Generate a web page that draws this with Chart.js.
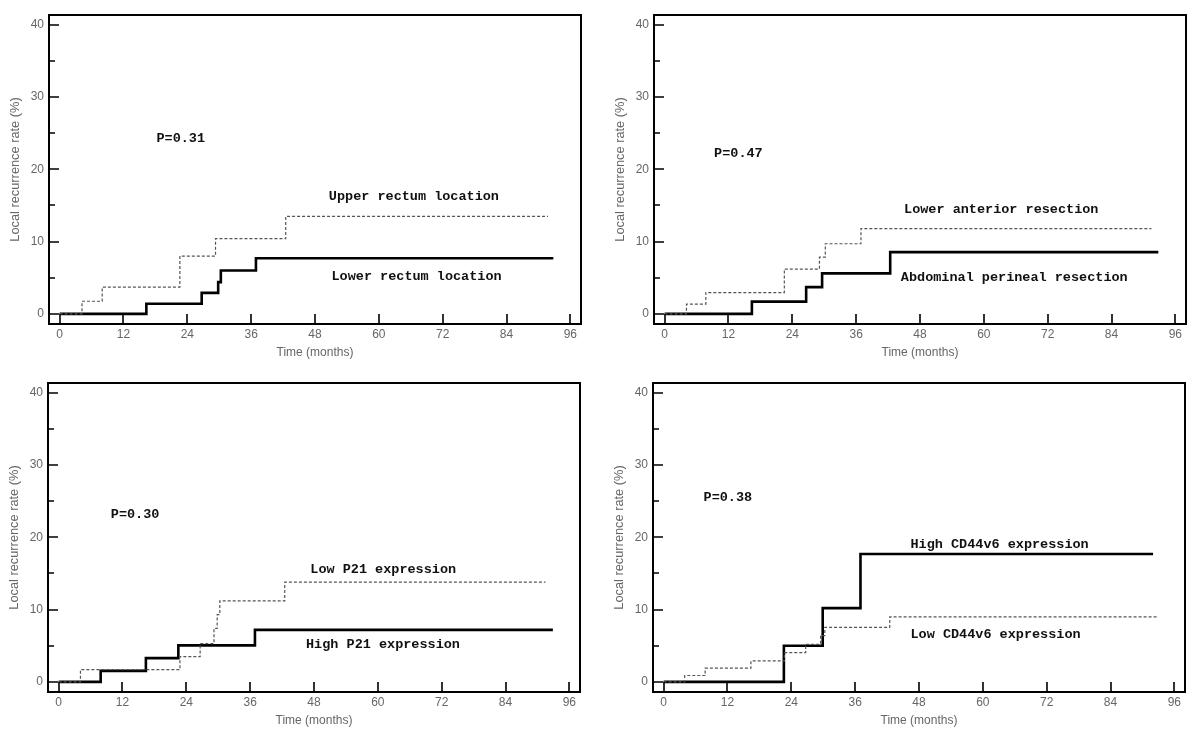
<!DOCTYPE html>
<html>
<head>
<meta charset="utf-8">
<title>Local recurrence rate</title>
<script src="https://cdn.jsdelivr.net/npm/chart.js@4/dist/chart.umd.min.js"></script>
<style>
  html, body { margin: 0; padding: 0; background: #fff; }
  #wrap { position: relative; width: 1200px; height: 746px; overflow: hidden; background: #fff; }
  #wrap canvas { position: absolute; }
</style>
</head>
<body>
<div id="wrap">
  <canvas id="km-location" width="600" height="370" style="left:0px;top:0px"></canvas>
  <canvas id="km-resection" width="600" height="370" style="left:605px;top:0px"></canvas>
  <canvas id="km-p21" width="600" height="370" style="left:-1px;top:368px"></canvas>
  <canvas id="km-cd44" width="600" height="370" style="left:604px;top:368px"></canvas>
</div>
<script>
// axis ticks
const monthTicks = [0, 12, 24, 36, 48, 60, 72, 84, 96]
const rateTicks = [0, 5, 10, 15, 20, 25, 30, 35, 40]

// tumour location
const upperRectumMonths = [0, 4.2, 8.0, 22.6, 29.3, 42.5, 91.8]
const upperRectumRate = [0, 1.75, 3.7, 8.0, 10.4, 13.5, 13.5]
const lowerRectumMonths = [0, 16.3, 26.7, 29.8, 30.3, 36.9, 92.8]
const lowerRectumRate = [0, 1.4, 2.9, 4.4, 6.0, 7.7, 7.7]

// type of resection
const anteriorMonths = [0, 4.1, 7.75, 22.5, 29.1, 30.2, 36.9, 91.5]
const anteriorRate = [0, 1.35, 2.95, 6.2, 7.85, 9.7, 11.8, 11.8]
const perinealMonths = [0, 16.4, 26.6, 29.6, 42.4, 92.8]
const perinealRate = [0, 1.7, 3.7, 5.6, 8.55, 8.55]

// P21 expression
const lowP21Months = [0, 4.1, 22.8, 26.6, 29.2, 29.8, 30.3, 42.5, 91.5]
const lowP21Rate = [0, 1.7, 3.5, 5.3, 7.4, 9.3, 11.2, 13.8, 13.8]
const highP21Months = [0, 7.9, 16.4, 22.5, 36.9, 92.9]
const highP21Rate = [0, 1.52, 3.28, 5.05, 7.2, 7.2]

// CD44v6 expression
const lowCD44Months = [0, 3.95, 7.8, 16.4, 22.7, 26.7, 29.5, 30.3, 42.5, 92.7]
const lowCD44Rate = [0, 0.88, 1.9, 2.9, 4.06, 5.2, 6.4, 7.55, 9.0, 9.0]
const highCD44Months = [0, 22.6, 29.9, 37.0, 92.0]
const highCD44Rate = [0, 5.0, 10.2, 17.7, 17.7]

const toPoints = (months, rate) => months.map((m, i) => ({ x: m, y: rate[i] }))

const solidStyle = { borderColor: '#000', borderWidth: 2.6 }
const dottedStyle = { borderColor: '#555', borderWidth: 1.2, borderDash: [3, 2] }

// frame box and inward tick marks
const framePlugin = {
  id: 'frame',
  afterDraw(chart) {
    const { ctx, chartArea: a, scales } = chart
    ctx.save()
    ctx.strokeStyle = '#000'
    ctx.lineWidth = 2
    ctx.strokeRect(a.left, a.top, a.right - a.left, a.bottom - a.top)
    ctx.lineWidth = 1.6
    ctx.beginPath()
    scales.x.ticks.forEach(t => {
      const px = Math.round(scales.x.getPixelForValue(t.value))
      ctx.moveTo(px, a.bottom)
      ctx.lineTo(px, a.bottom - 10)
    })
    scales.y.ticks.forEach(t => {
      const py = Math.round(scales.y.getPixelForValue(t.value))
      ctx.moveTo(a.left, py)
      ctx.lineTo(a.left + (t.value % 10 === 0 ? 10 : 6), py)
    })
    ctx.stroke()
    ctx.restore()
  }
}

// curve labels and P value
const notesPlugin = {
  id: 'notes',
  afterDatasetsDraw(chart, args, opts) {
    const { ctx, scales } = chart
    ctx.save()
    ctx.font = 'bold 13.5px "Liberation Mono", "DejaVu Sans Mono", monospace'
    ctx.fillStyle = '#111'
    ctx.textAlign = 'left'
    ctx.textBaseline = 'middle'
    ;(opts.items || []).forEach(n => {
      ctx.fillText(n.text, scales.x.getPixelForValue(n.x), scales.y.getPixelForValue(n.y))
    })
    ctx.restore()
  }
}

const tickFont = { family: '"Liberation Sans", Arial, sans-serif', size: 12 }
const yTitleFont = { family: '"Liberation Sans", Arial, sans-serif', size: 12.8 }

function makeChart(id, solid, dotted, notes) {
  return new Chart(document.getElementById(id), {
    type: 'line',
    data: {
      datasets: [
        { label: dotted.label, data: toPoints(dotted.months, dotted.rate), stepped: true, pointRadius: 0, ...dottedStyle },
        { label: solid.label, data: toPoints(solid.months, solid.rate), stepped: true, pointRadius: 0, ...solidStyle },
      ]
    },
    options: {
      responsive: false,
      animation: false,
      layout: { padding: { top: 15, right: 19, left: 0, bottom: 0 } },
      plugins: {
        legend: { display: false },
        tooltip: { enabled: false },
        notes: { items: notes },
      },
      scales: {
        x: {
          type: 'linear',
          min: -2,
          max: 98,
          afterBuildTicks: s => { s.ticks = monthTicks.map(v => ({ value: v })) },
          afterFit: s => { s.height = 46 },
          grid: { display: false, drawTicks: false },
          border: { display: false },
          ticks: { color: '#666', font: tickFont, padding: 3, maxRotation: 0, autoSkip: false },
          title: { display: true, text: 'Time (months)', color: '#666', font: tickFont, padding: { top: 0, bottom: 10 } },
        },
        y: {
          min: -1.4,
          max: 41.35,
          afterBuildTicks: s => { s.ticks = rateTicks.map(v => ({ value: v })) },
          afterFit: s => { s.width = 49 },
          grid: { display: false, drawTicks: false },
          border: { display: false },
          ticks: { color: '#666', font: tickFont, padding: 5, autoSkip: false, callback: v => (v % 10 === 0 ? v : '') },
          title: { display: true, text: 'Local recurrence rate (%)', color: '#666', font: yTitleFont, padding: { top: 8, bottom: 0 } },
        }
      }
    },
    plugins: [framePlugin, notesPlugin]
  })
}

makeChart('km-location',
  { label: 'Lower rectum location', months: lowerRectumMonths, rate: lowerRectumRate },
  { label: 'Upper rectum location', months: upperRectumMonths, rate: upperRectumRate },
  [
    { text: 'P=0.31', x: 18.2, y: 24.3 },
    { text: 'Upper rectum location', x: 50.6, y: 16.2 },
    { text: 'Lower rectum location', x: 51.1, y: 5.2 },
  ])

makeChart('km-resection',
  { label: 'Abdominal perineal resection', months: perinealMonths, rate: perinealRate },
  { label: 'Lower anterior resection', months: anteriorMonths, rate: anteriorRate },
  [
    { text: 'P=0.47', x: 9.3, y: 22.2 },
    { text: 'Lower anterior resection', x: 45.0, y: 14.4 },
    { text: 'Abdominal perineal resection', x: 44.4, y: 5.0 },
  ])

makeChart('km-p21',
  { label: 'High P21 expression', months: highP21Months, rate: highP21Rate },
  { label: 'Low P21 expression', months: lowP21Months, rate: lowP21Rate },
  [
    { text: 'P=0.30', x: 9.8, y: 23.2 },
    { text: 'Low P21 expression', x: 47.3, y: 15.6 },
    { text: 'High P21 expression', x: 46.5, y: 5.2 },
  ])

makeChart('km-cd44',
  { label: 'High CD44v6 expression', months: highCD44Months, rate: highCD44Rate },
  { label: 'Low CD44v6 expression', months: lowCD44Months, rate: lowCD44Rate },
  [
    { text: 'P=0.38', x: 7.5, y: 25.5 },
    { text: 'High CD44v6 expression', x: 46.4, y: 19.0 },
    { text: 'Low CD44v6 expression', x: 46.4, y: 6.5 },
  ])
</script>
</body>
</html>
